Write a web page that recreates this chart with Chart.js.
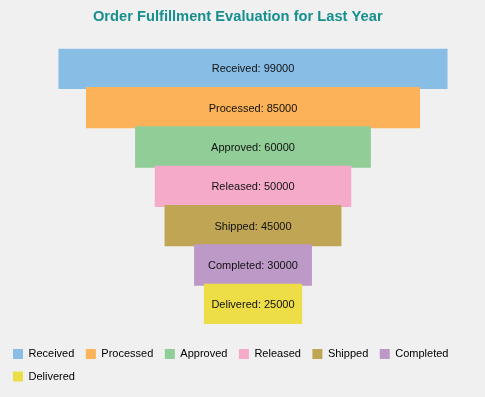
<!DOCTYPE html>
<html>
<head>
<meta charset="utf-8">
<script src="https://cdn.jsdelivr.net/npm/chart.js@4/dist/chart.umd.min.js"></script>
<style>
  html, body { margin: 0; padding: 0; background: #F0F0F0; }
  #wrap { width: 485px; height: 397px; }
</style>
</head>
<body>
<div id="wrap"><canvas id="funnel"></canvas></div>
<script>
// --- Data ---
const STAGES = ['Received', 'Processed', 'Approved', 'Released', 'Shipped', 'Completed', 'Delivered'];
const VALUES = [99000, 85000, 60000, 50000, 45000, 30000, 25000];
const COLORS = ['#88BDE6', '#FBB258', '#90CD97', '#F6AAC9', '#BFA554', '#BC99C7', '#EDDD46'];

const FONT = "'Liberation Sans', Arial, sans-serif";

// centred floating bars -> funnel
const funnelData = VALUES.map(v => [-v / 2, v / 2]);

// write "Stage: value" in the middle of each bar
const barLabels = {
    id: 'barLabels',
    afterDatasetsDraw(chart) {
        const ctx = chart.ctx;
        const meta = chart.getDatasetMeta(0);
        ctx.save();
        ctx.font = '11px ' + FONT;
        ctx.fillStyle = '#111111';
        ctx.textAlign = 'center';
        ctx.textBaseline = 'middle';
        meta.data.forEach((bar, i) => {
            const cx = (bar.x + bar.base) / 2;
            ctx.fillText(STAGES[i] + ': ' + VALUES[i], cx, bar.y + 1);
        });
        ctx.restore();
    }
};

new Chart(document.getElementById('funnel'), {
    type: 'bar',
    data: {
        labels: STAGES,
        datasets: [{
            data: funnelData,
            backgroundColor: COLORS,
            borderWidth: 0,
            categoryPercentage: 1,
            barPercentage: 1.05
        }]
    },
    options: {
        indexAxis: 'y',
        responsive: true,
        maintainAspectRatio: false,
        animation: false,
        layout: { padding: { left: 1.5, right: 11, top: 0, bottom: 5 } },
        scales: {
            x: {
                min: -63995,
                max: 56234,
                grid: { display: false },
                border: { display: false },
                ticks: { display: false },
                afterFit: (axis) => { axis.height = 13; }
            },
            y: { display: false }
        },
        plugins: {
            title: {
                display: true,
                text: 'Order Fulfillment Evaluation for Last Year',
                color: '#178F8F',
                font: { family: FONT, size: 14.7, weight: 'bold' },
                padding: { top: 8, bottom: 23 }
            },
            legend: {
                position: 'bottom',
                align: 'start',
                labels: {
                    boxWidth: 10,
                    boxHeight: 10,
                    padding: 11.5,
                    color: '#111111',
                    font: { family: FONT, size: 11 },
                    generateLabels: (chart) => STAGES.map((s, i) => ({
                        text: s,
                        fillStyle: COLORS[i],
                        strokeStyle: COLORS[i],
                        lineWidth: 0,
                        index: i
                    }))
                }
            },
            tooltip: { enabled: false }
        }
    },
    plugins: [barLabels]
});
</script>
</body>
</html>
